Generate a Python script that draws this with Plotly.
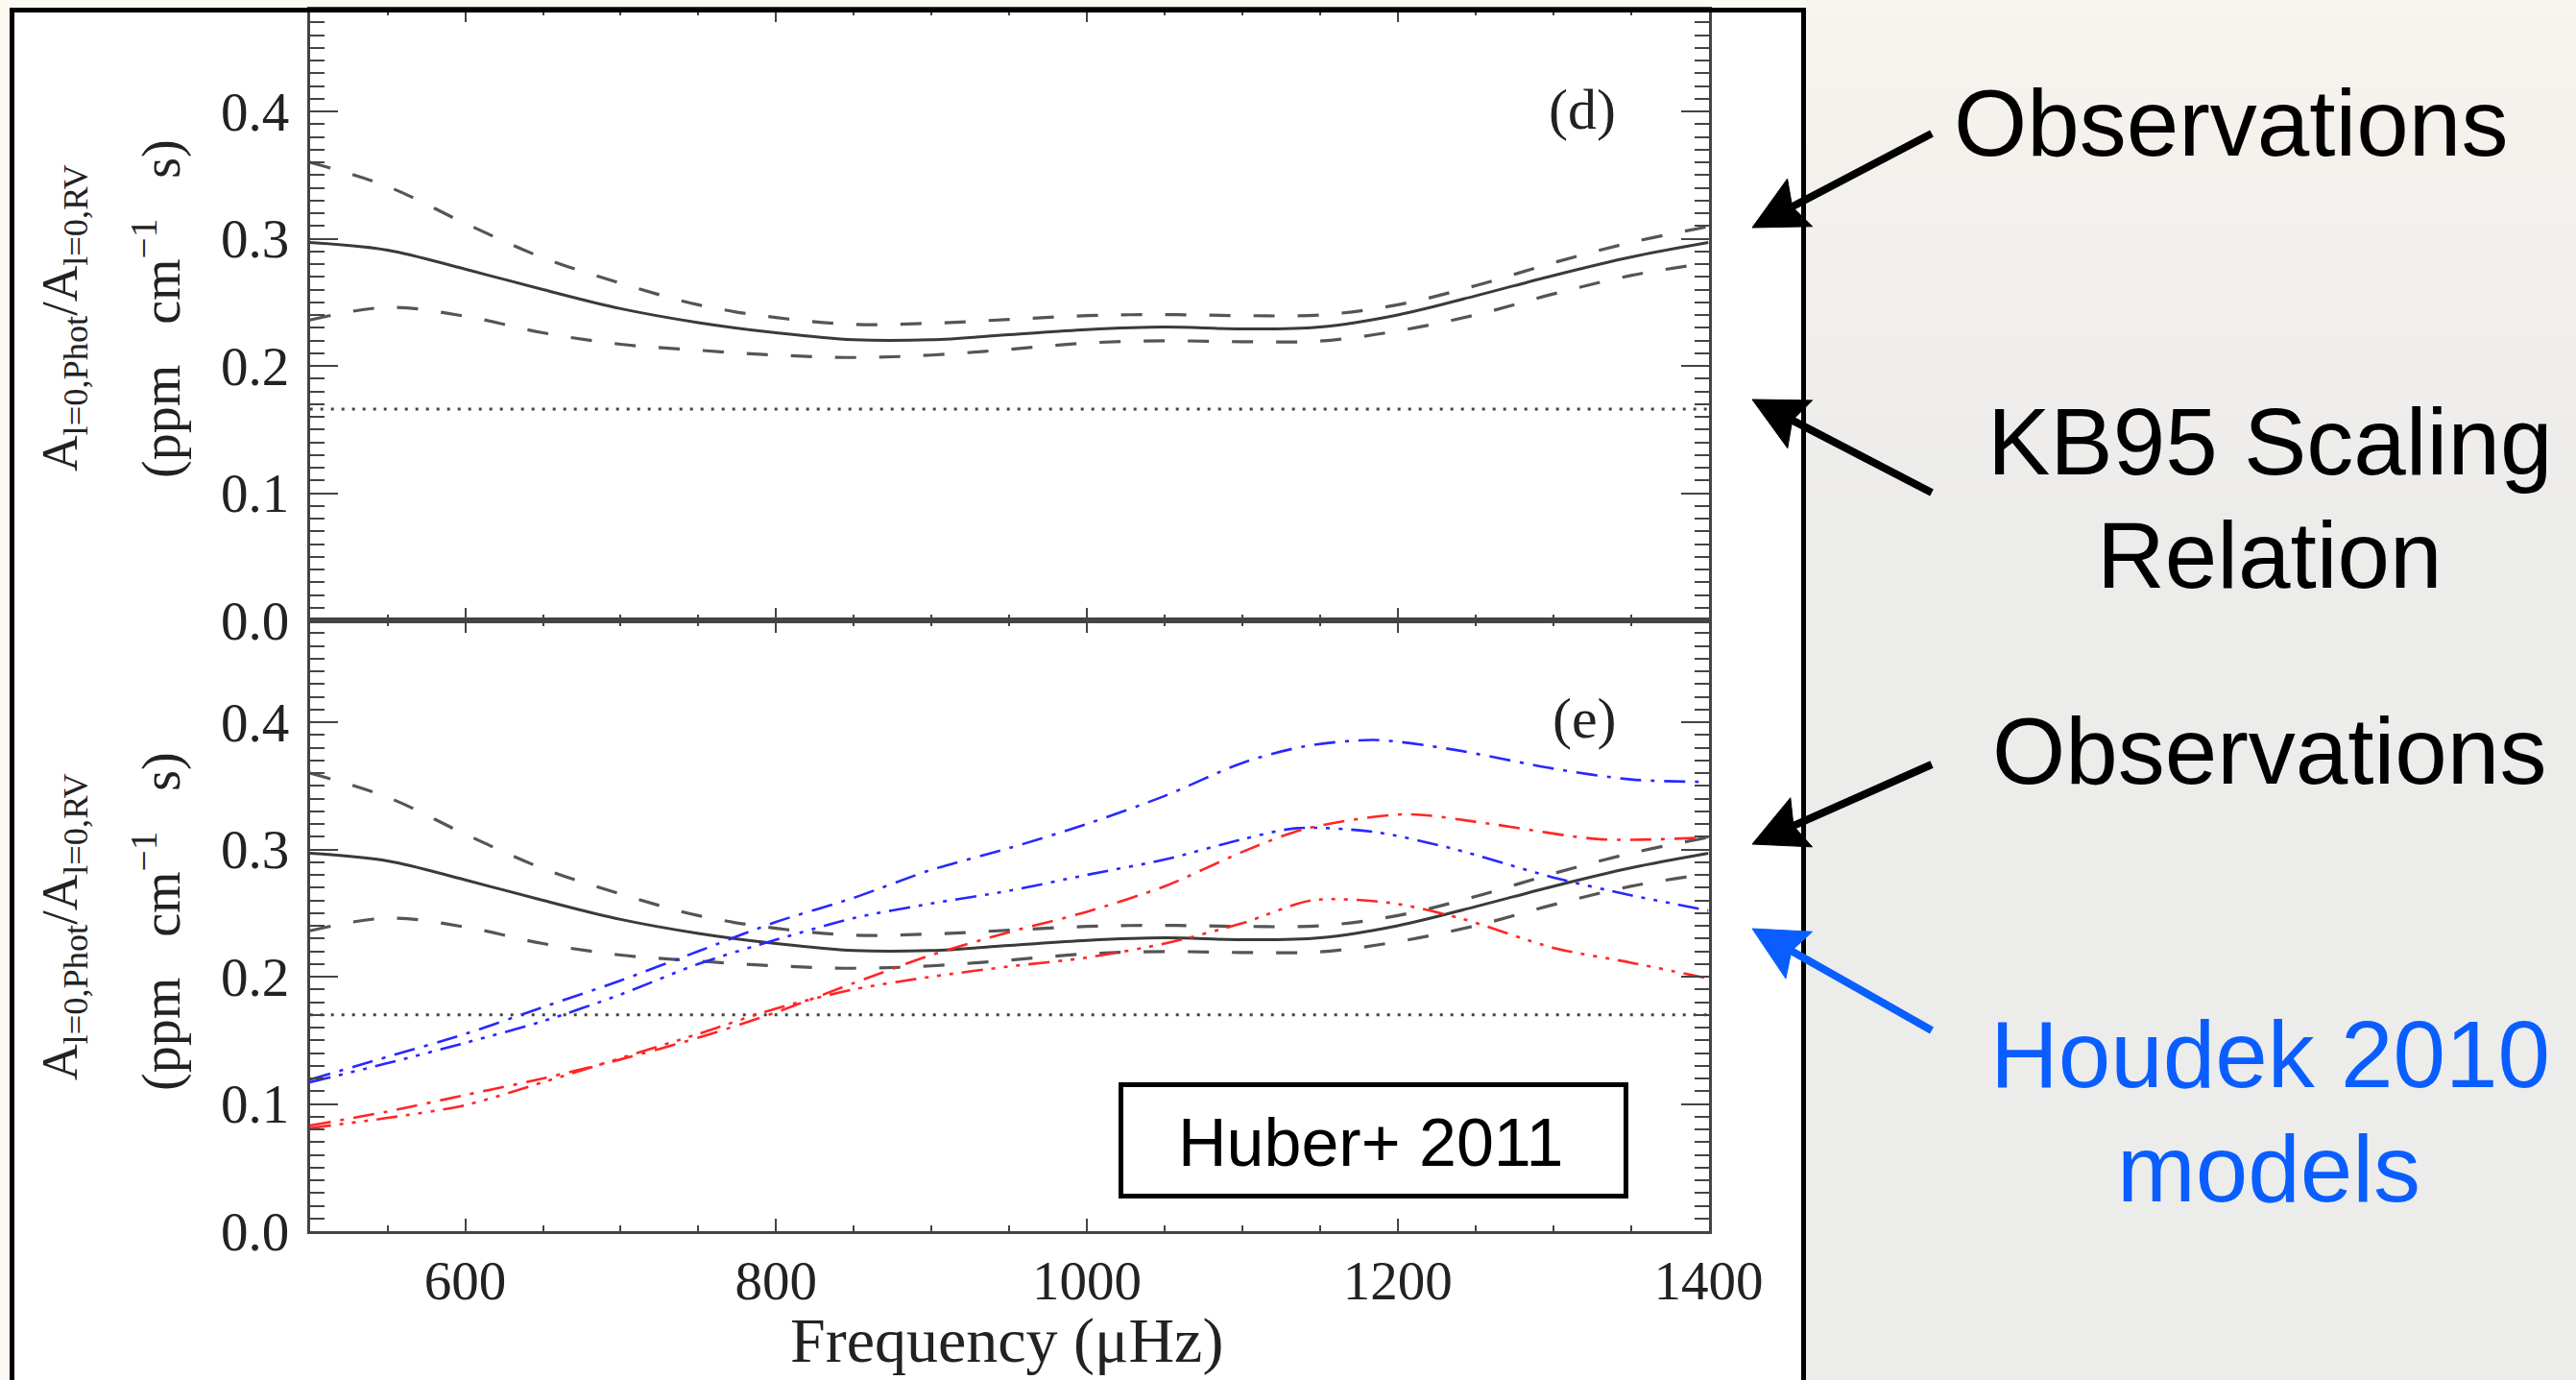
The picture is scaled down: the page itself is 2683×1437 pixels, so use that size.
import base64
import math
import struct
import zlib

import numpy as np
import plotly.graph_objects as go

W, H = 2683, 1437

# Observed photometric/RV amplitude ratio (mean and 1-sigma band)
obs_freq = [500, 550, 600, 650, 700, 750, 800, 850, 900, 950, 1000,
            1050, 1100, 1150, 1200, 1250, 1300, 1350, 1400]
obs_mean = [0.297, 0.291, 0.276, 0.260, 0.245, 0.234, 0.226, 0.2205, 0.2205, 0.2245, 0.2285,
            0.2305, 0.229, 0.2305, 0.240, 0.255, 0.271, 0.2855, 0.297]
obs_upper = [0.360, 0.341, 0.312, 0.285, 0.265, 0.248, 0.238, 0.2326, 0.2335, 0.2365, 0.2395,
             0.2403, 0.2395, 0.2400, 0.2480, 0.263, 0.281, 0.297, 0.3095]
obs_lower = [0.236, 0.246, 0.239, 0.226, 0.217, 0.2123, 0.2085, 0.2066, 0.2085, 0.213, 0.218,
             0.2197, 0.2190, 0.2195, 0.2275, 0.240, 0.2565, 0.271, 0.281]

# KB95 scaling relation level
kb95_freq = [500, 1400]
kb95_d = [0.166, 0.166]
kb95_e = [0.170, 0.170]

# Houdek (2010) model predictions
blue1_freq = [500, 550, 600, 650, 700, 750, 800, 850, 900, 950, 1000, 1050, 1100, 1140, 1185, 1235, 1300, 1350, 1400]
blue1 = [0.119, 0.137, 0.155, 0.176, 0.197, 0.220, 0.243, 0.262, 0.284, 0.301, 0.320, 0.342, 0.368, 0.381, 0.386, 0.3786, 0.3635, 0.355, 0.353]

blue2_freq = [500, 550, 600, 650, 700, 750, 800, 850, 900, 950, 1000, 1050, 1100, 1135, 1185, 1235, 1300, 1350, 1400]
blue2 = [0.117, 0.132, 0.148, 0.165, 0.186, 0.210, 0.229, 0.246, 0.2575, 0.2675, 0.280, 0.292, 0.308, 0.3167, 0.3137, 0.3007, 0.278, 0.264, 0.252]

red1_freq = [500, 550, 600, 650, 700, 750, 800, 850, 900, 950, 1000, 1050, 1100, 1140, 1205, 1260, 1330, 1400]
red1 = [0.083, 0.094, 0.107, 0.120, 0.135, 0.152, 0.172, 0.195, 0.217, 0.235, 0.251, 0.271, 0.298, 0.316, 0.3276, 0.320, 0.308, 0.3095]

red2_freq = [500, 550, 600, 650, 700, 750, 800, 850, 900, 950, 1000, 1050, 1100, 1145, 1195, 1240, 1300, 1350, 1400]
red2 = [0.081, 0.089, 0.099, 0.117, 0.136, 0.155, 0.175, 0.190, 0.200, 0.208, 0.215, 0.226, 0.242, 0.260, 0.258, 0.246, 0.2227, 0.211, 0.1986]


def px(x):
    return x / W


def py(y):
    return 1 - y / H


def png_uri(rgb):
    h, w, _ = rgb.shape
    raw = b"".join(b"\x00" + rgb[i].tobytes() for i in range(h))

    def chunk(tag, data):
        out = struct.pack(">I", len(data)) + tag + data
        return out + struct.pack(">I", zlib.crc32(tag + data) & 0xFFFFFFFF)

    png = (b"\x89PNG\r\n\x1a\n"
           + chunk(b"IHDR", struct.pack(">IIBBBBB", w, h, 8, 2, 0, 0, 0))
           + chunk(b"IDAT", zlib.compress(raw, 9))
           + chunk(b"IEND", b""))
    return "data:image/png;base64," + base64.b64encode(png).decode()


# soft backdrop behind the annotation column
rows = np.linspace(0, 1, 72)[:, None, None]
warm = np.array([248, 244, 239], float)
grey = np.array([236, 236, 235], float)
t = np.clip(rows / 0.4, 0, 1) * np.ones((1, 40, 1))
bg = np.clip(warm * (1 - t) + grey * t, 0, 255).astype(np.uint8)

AX_COL = "#444444"
TICK_FONT = dict(family="Liberation Serif", size=57, color="#222222")

fig = go.Figure()

for xa, ya, kb in (("x", "y", kb95_d), ("x2", "y2", kb95_e)):
    fig.add_trace(go.Scatter(x=obs_freq, y=obs_upper, mode="lines", xaxis=xa, yaxis=ya,
                             line=dict(color="#555555", width=3.2, dash="22px,24px", shape="spline")))
    fig.add_trace(go.Scatter(x=obs_freq, y=obs_lower, mode="lines", xaxis=xa, yaxis=ya,
                             line=dict(color="#555555", width=3.2, dash="22px,24px", shape="spline")))
    fig.add_trace(go.Scatter(x=obs_freq, y=obs_mean, mode="lines", xaxis=xa, yaxis=ya,
                             line=dict(color="#3a3a3a", width=3, shape="spline")))
    fig.add_trace(go.Scatter(x=kb95_freq, y=kb, mode="lines", xaxis=xa, yaxis=ya,
                             line=dict(color="#444444", width=3, dash="3px,8px")))

DASH_DOT = "22px,10px,4px,10px"
DASH_3DOT = "22px,9px,4px,9px,4px,9px,4px,9px"
for fx, fy, col, dash in ((blue1_freq, blue1, "#2828ff", DASH_DOT),
                          (blue2_freq, blue2, "#2828ff", DASH_3DOT),
                          (red1_freq, red1, "#ff2626", DASH_DOT),
                          (red2_freq, red2, "#ff2626", DASH_3DOT)):
    fig.add_trace(go.Scatter(x=fx, y=fy, mode="lines", xaxis="x2", yaxis="y2",
                             line=dict(color=col, width=2.6, dash=dash, shape="spline", smoothing=0.8)))

x_dom = [px(322.7), px(1779.5)]
xaxis_common = dict(range=[500, 1400], domain=x_dom, tick0=600, dtick=200, ticks="inside",
                     ticklen=13, tickwidth=2, tickcolor=AX_COL, showline=True, linewidth=3,
                     linecolor=AX_COL, mirror="ticks", showgrid=False, zeroline=False,
                     minor=dict(tick0=500, dtick=50, ticks="inside", ticklen=6, tickwidth=2,
                                tickcolor=AX_COL, showgrid=False),
                     tickfont=TICK_FONT, fixedrange=True, automargin=False)
yaxis_common = dict(range=[0, 0.48], tick0=0, dtick=0.1, tickformat=".1f", ticks="inside",
                     ticklen=29, tickwidth=2, tickcolor=AX_COL, showline=True, linewidth=3,
                     linecolor=AX_COL, mirror="ticks", showgrid=False, zeroline=False,
                     minor=dict(tick0=0, dtick=0.01, ticks="inside", ticklen=15, tickwidth=2,
                                tickcolor=AX_COL, showgrid=False),
                     tickfont=TICK_FONT, ticklabelstandoff=7, fixedrange=True, automargin=False)

fig.update_layout(
    width=W, height=H, autosize=False,
    margin=dict(l=0, r=0, t=0, b=0, pad=0, autoexpand=False),
    paper_bgcolor="#fbf9f2", plot_bgcolor="rgba(0,0,0,0)", showlegend=False,
    xaxis=dict(xaxis_common, anchor="y", showticklabels=False),
    yaxis=dict(yaxis_common, domain=[py(646), py(10)], anchor="x"),
    xaxis2=dict(xaxis_common, anchor="y2", showticklabels=True, ticklabelstandoff=0),
    yaxis2=dict(yaxis_common, domain=[py(1282), py(646)], anchor="x2"),
)

fig.add_layout_image(dict(source=png_uri(bg), xref="paper", yref="paper", x=px(1881), y=1,
                          sizex=1 - px(1881), sizey=1, sizing="stretch", layer="below",
                          xanchor="left", yanchor="top"))

FRAME = dict(color="#000000", width=5)
shapes = [
    # white slide panel, framed on the left, top and right (it runs off the bottom edge)
    dict(type="rect", xref="paper", yref="paper", x0=px(12.5), x1=px(1878.5), y0=py(10.5), y1=0,
         line=dict(width=0), fillcolor="#ffffff", layer="below"),
    dict(type="line", xref="paper", yref="paper", x0=px(12.5), x1=px(12.5), y0=py(8), y1=0,
         line=FRAME, layer="above"),
    dict(type="line", xref="paper", yref="paper", x0=px(1878.5), x1=px(1878.5), y0=py(8), y1=0,
         line=FRAME, layer="above"),
    dict(type="line", xref="paper", yref="paper", x0=px(10), x1=px(1881), y0=py(10.5), y1=py(10.5),
         line=FRAME, layer="above"),
    # reference label box
    dict(type="rect", xref="paper", yref="paper", x0=px(1167.5), x1=px(1693.5), y0=py(1129.5), y1=py(1245.5),
         line=dict(color="#000000", width=5), fillcolor="#ffffff", layer="above"),
]


def pointer(tip, tail, color, head_len=56, half_w=28, notch=9, width=8):
    """Shaft plus a barbed triangular head, given pixel tip and tail."""
    tx, ty = tip
    sx, sy = tail
    length = math.hypot(sx - tx, sy - ty)
    ux, uy = (sx - tx) / length, (sy - ty) / length
    nx, ny = -uy, ux
    bx, by = tx + ux * head_len, ty + uy * head_len
    c1 = (bx + nx * half_w, by + ny * half_w)
    c2 = (bx - nx * half_w, by - ny * half_w)
    mid = (tx + ux * (head_len - notch), ty + uy * (head_len - notch))
    pts = [tip, c1, mid, c2]
    path = "M " + " L ".join(f"{px(x):.6f},{py(y):.6f}" for x, y in pts) + " Z"
    return [
        dict(type="line", xref="paper", yref="paper", x0=px(sx), y0=py(sy), x1=px(mid[0]), y1=py(mid[1]),
             line=dict(color=color, width=width), layer="above"),
        dict(type="path", xref="paper", yref="paper", path=path, fillcolor=color,
             line=dict(color=color, width=1), layer="above"),
    ]


BLUE = "#0a5eff"
for tip, tail, col in (((1825, 237), (2012, 139), "#000000"),
                       ((1825, 416), (2012, 513), "#000000"),
                       ((1825, 879), (2012, 796), "#000000"),
                       ((1825, 967), (2012, 1073), BLUE)):
    shapes += pointer(tip, tail, col)

fig.update_layout(shapes=shapes)

SERIF = "Liberation Serif"
SANS = "Liberation Sans"
ann = []
line1 = "A<sub>l=0,Phot</sub>/A<sub>l=0,RV</sub>"
line2 = "(ppm\u00a0\u00a0\u00a0cm<sup>\u22121</sup>\u00a0\u00a0\u00a0s)"
for cy1, cy2 in ((331, 322), (965, 960)):
    ann.append(dict(text=line1, x=px(66), y=py(cy1), textangle=-90, font=dict(family=SERIF, size=52, color="#222")))
    ann.append(dict(text=line2, x=px(164), y=py(cy2), textangle=-90, font=dict(family=SERIF, size=56, color="#222")))
ann.append(dict(text="(d)", x=px(1648), y=py(114), font=dict(family=SERIF, size=60, color="#222")))
ann.append(dict(text="(e)", x=px(1650), y=py(748), font=dict(family=SERIF, size=60, color="#222")))
ann.append(dict(text="Frequency (\u03bcHz)", x=px(1048), y=py(1396), font=dict(family=SERIF, size=66, color="#222")))
ann.append(dict(text="Huber+ 2011", x=px(1428), y=py(1190), font=dict(family=SANS, size=70, color="#000")))

ann.append(dict(text="Observations", x=px(2323), y=py(128), font=dict(family=SANS, size=98, color="#000")))
ann.append(dict(text="KB95 Scaling", x=px(2364), y=py(460), font=dict(family=SANS, size=98, color="#000")))
ann.append(dict(text="Relation", x=px(2364), y=py(578), font=dict(family=SANS, size=98, color="#000")))
ann.append(dict(text="Observations", x=px(2363), y=py(782), font=dict(family=SANS, size=98, color="#000")))
ann.append(dict(text="Houdek 2010", x=px(2364), y=py(1098), font=dict(family=SANS, size=98, color=BLUE)))
ann.append(dict(text="models", x=px(2363), y=py(1217), font=dict(family=SANS, size=98, color=BLUE)))

for a in ann:
    a.update(xref="paper", yref="paper", showarrow=False, xanchor="center", yanchor="middle")

fig.update_layout(annotations=ann)
fig.write_html("out.html")
